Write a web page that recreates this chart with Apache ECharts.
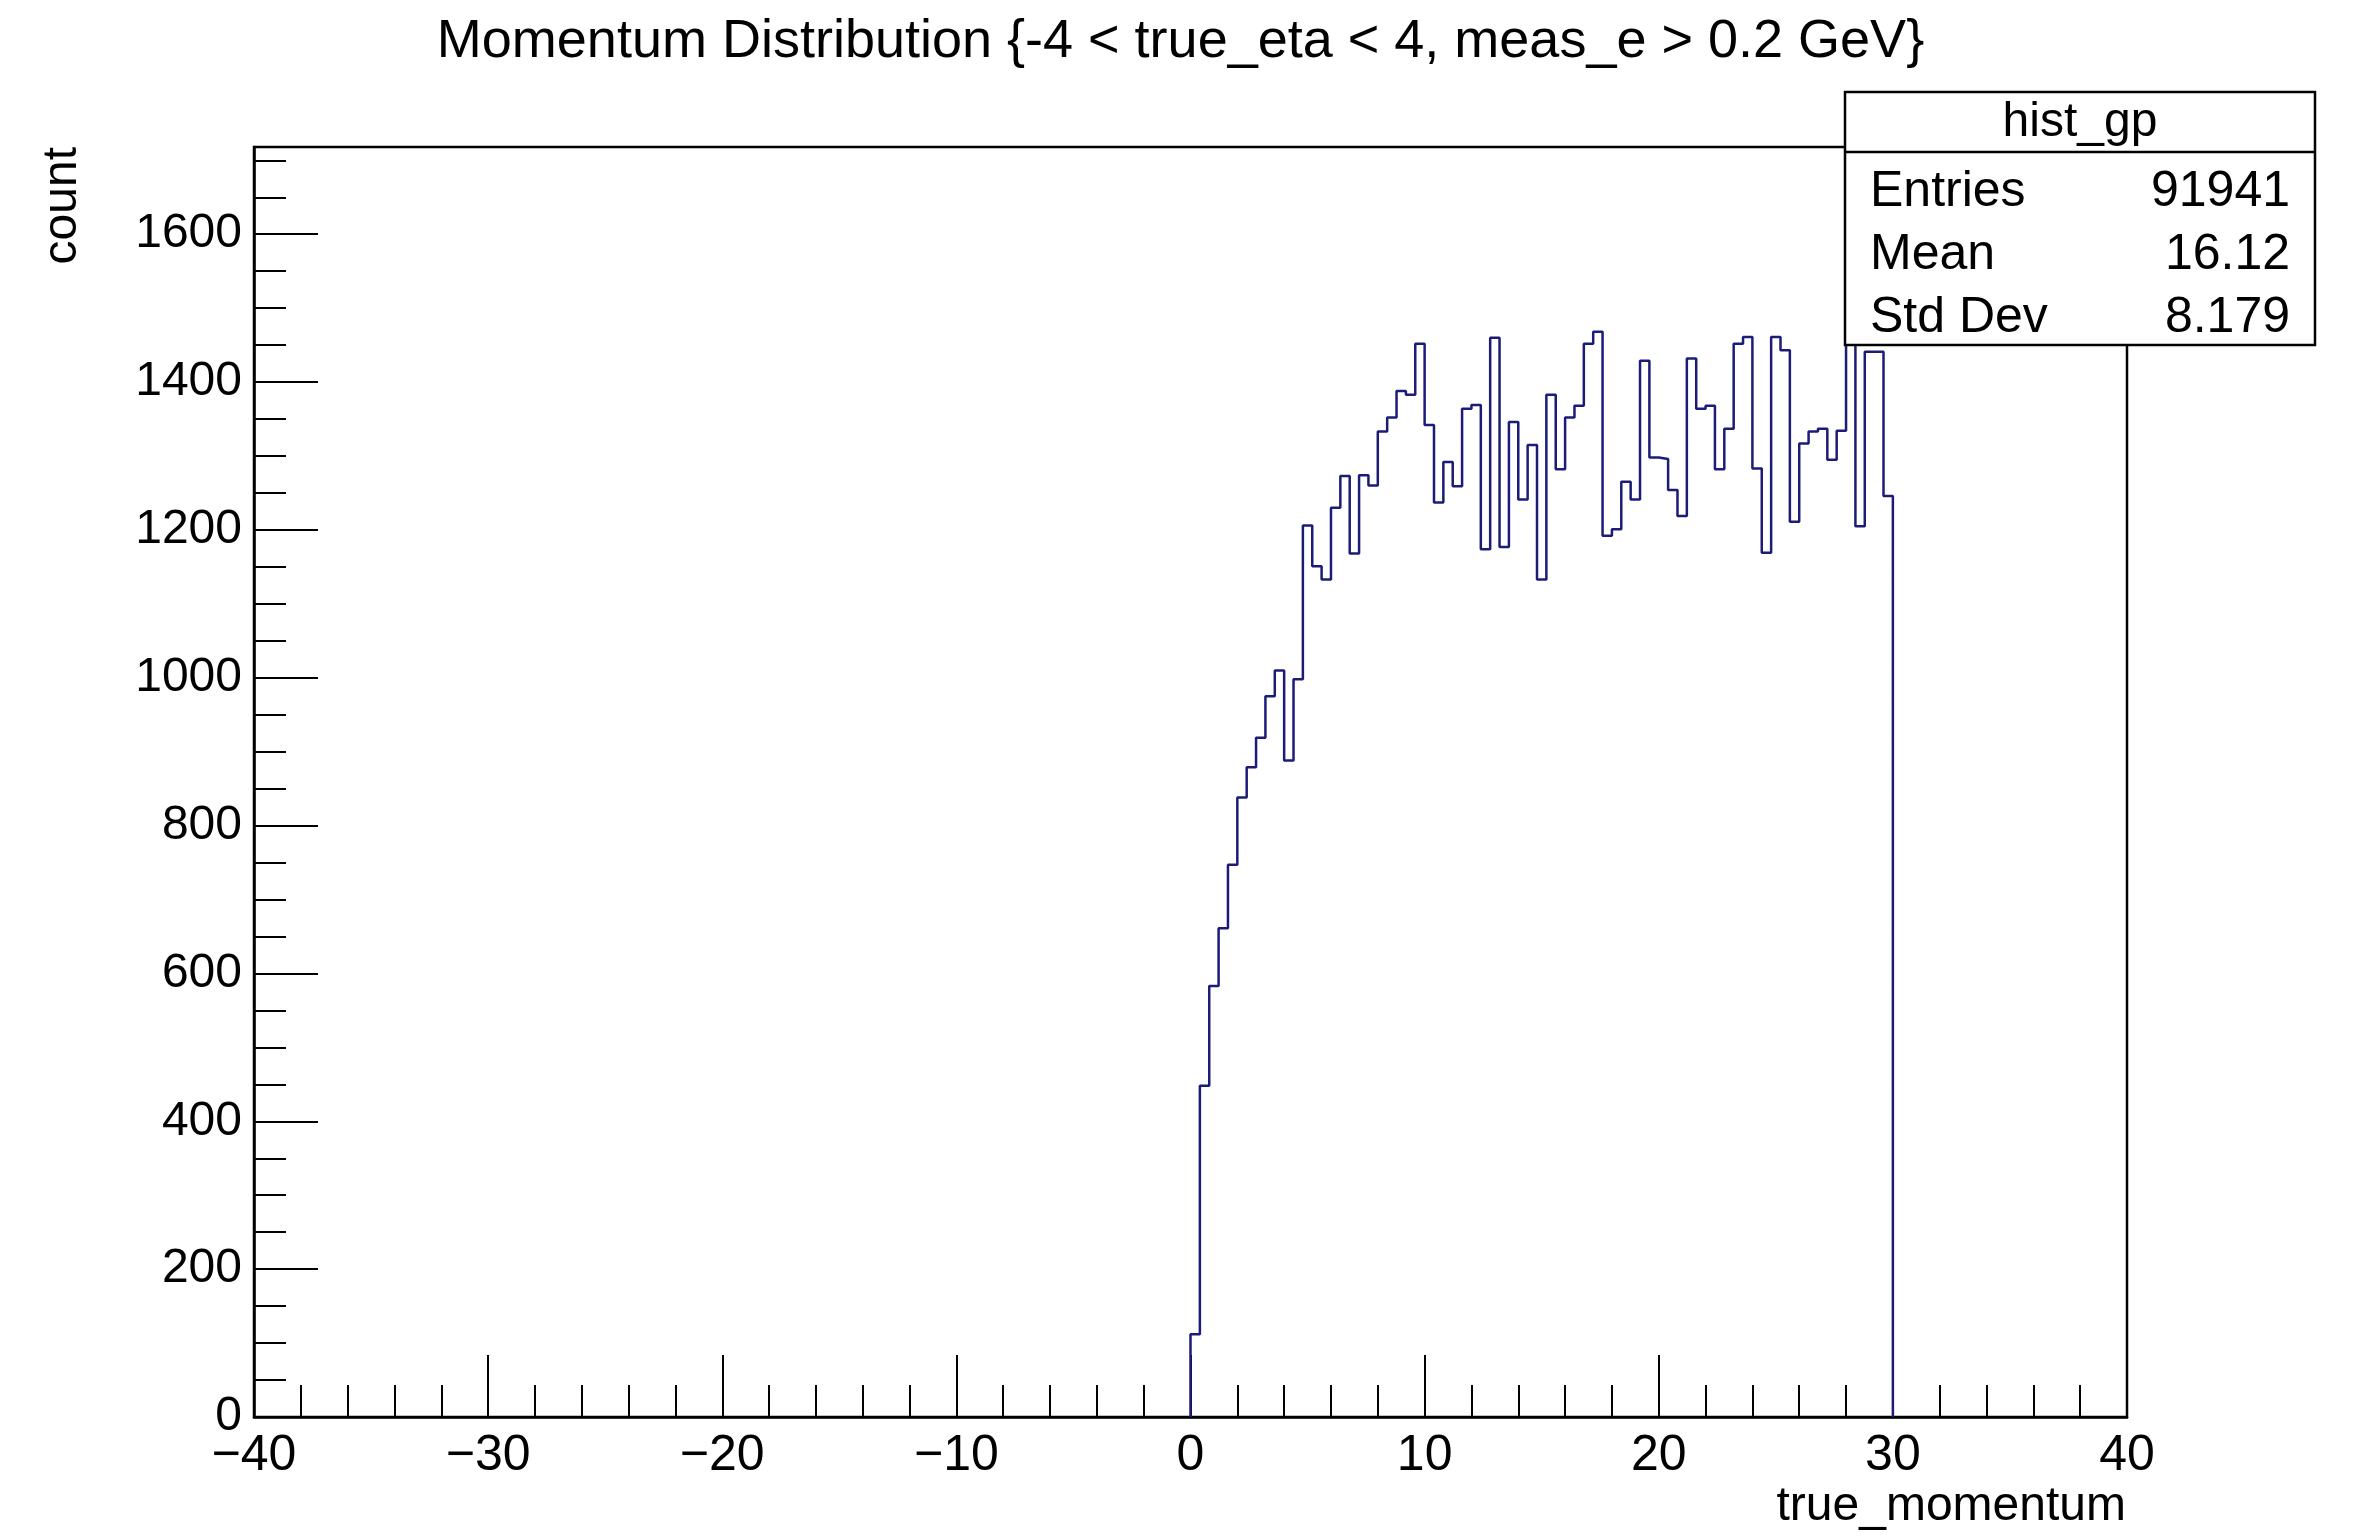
<!DOCTYPE html>
<html>
<head>
<meta charset="utf-8">
<script src="https://cdn.jsdelivr.net/npm/echarts@6/dist/echarts.min.js"></script>
<style>
  html, body { margin: 0; padding: 0; background: #ffffff; }
  #chart { width: 2361px; height: 1536px; }
</style>
</head>
<body>
<div id="chart"></div>
<script>
// ---- data (hist_gp) ----
const titleText = 'Momentum Distribution {-4 < true_eta < 4, meas_e > 0.2 GeV}';
const xTitle = 'true_momentum';
const yTitle = 'count';
const histName = 'hist_gp';
const statLabels = ['Entries', 'Mean', 'Std Dev'];
const statValues = ['91941', '16.12', '8.179'];

// bins of width 0.4 starting at 0 (all other bins from -40 to 40 are empty)
const binStart = 0;
const binWidth = 0.4;
const binCounts = [
  112, 448, 583, 661, 747, 838, 879, 919, 975, 1010,
  888, 998, 1206, 1151, 1133, 1230, 1273, 1168, 1274, 1260,
  1333, 1352, 1388, 1383, 1452, 1342, 1237, 1292, 1259, 1364,
  1369, 1174, 1460, 1177, 1346, 1241, 1315, 1133, 1383, 1282,
  1352, 1368, 1452, 1468, 1192, 1201, 1265, 1241, 1429, 1298,
  1296, 1254, 1219, 1432, 1364, 1368, 1282, 1337, 1452, 1461,
  1283, 1169, 1461, 1443, 1211, 1317, 1333, 1337, 1295, 1334,
  1490, 1205, 1441, 1441, 1246
];

const xMin = -40, xMax = 40, xStep = 10;
const yMin = 0, yMax = 1718, yStep = 200, yMinorStep = 50;

// ---- build step outline points (left edges + closing edge) ----
const stepData = [];
const lowEdge = (i) => +(binStart + i * binWidth).toFixed(4);
stepData.push([lowEdge(0), 0]);
binCounts.forEach((c, i) => stepData.push([lowEdge(i), c]));
const lastEdge = lowEdge(binCounts.length);
stepData.push([lastEdge, binCounts[binCounts.length - 1]]);
stepData.push([lastEdge, 0]);

const FONT = "'Liberation Sans', Arial, Helvetica, sans-serif";
const chart = echarts.init(document.getElementById('chart'), null, { renderer: 'canvas' });

const statGraphics = [];
const boxX = 1845, boxY = 92, boxW = 470, boxH = 253, headH = 60;
statGraphics.push({
  type: 'rect', z: 100,
  shape: { x: boxX, y: boxY, width: boxW, height: boxH },
  style: { fill: '#ffffff', stroke: '#000000', lineWidth: 2.5 }
});
statGraphics.push({
  type: 'line', z: 101,
  shape: { x1: boxX, y1: boxY + headH, x2: boxX + boxW, y2: boxY + headH },
  style: { stroke: '#000000', lineWidth: 2.5 }
});
statGraphics.push({
  type: 'text', z: 102, x: boxX + boxW / 2, y: boxY + headH / 2 + 1,
  style: { text: histName, font: '48px ' + FONT, fill: '#000', align: 'center', verticalAlign: 'middle' }
});
statLabels.forEach((lab, i) => {
  const yy = boxY + headH + 40 + i * 63;
  statGraphics.push({
    type: 'text', z: 102, x: boxX + 25, y: yy,
    style: { text: lab, font: '50px ' + FONT, fill: '#000', align: 'left', verticalAlign: 'middle' }
  });
  statGraphics.push({
    type: 'text', z: 102, x: boxX + boxW - 25, y: yy,
    style: { text: statValues[i], font: '50px ' + FONT, fill: '#000', align: 'right', verticalAlign: 'middle' }
  });
});

const option = {
  backgroundColor: '#ffffff',
  animation: false,
  title: {
    text: titleText,
    left: 'center',
    top: 10,
    textStyle: { fontFamily: FONT, fontSize: 54, fontWeight: 'normal', color: '#000' }
  },
  grid: {
    left: 254, right: 234, top: 147, bottom: 119,
    show: true, borderColor: '#000', borderWidth: 2.5, backgroundColor: 'transparent',
    containLabel: false, outerBoundsMode: 'none'
  },
  xAxis: {
    type: 'value', min: xMin, max: xMax, interval: xStep,
    axisLine: { show: true, onZero: false, lineStyle: { color: '#000', width: 2.5 } },
    axisTick: { show: true, inside: true, length: 62, lineStyle: { color: '#000', width: 2 } },
    minorTick: { show: true, splitNumber: 5, length: 32, lineStyle: { color: '#000', width: 2 } },
    splitLine: { show: false }, minorSplitLine: { show: false },
    axisLabel: {
      show: true, margin: 14, fontFamily: FONT, fontSize: 50, color: '#000',
      formatter: (v) => String(v).replace('-', '\u2212')
    }
  },
  yAxis: [
    {
      type: 'value', min: yMin, max: yMax, interval: yStep, position: 'left',
      axisLine: { show: true, onZero: false, lineStyle: { color: '#000', width: 2.5 } },
      axisTick: { show: true, inside: true, length: 64, lineStyle: { color: '#000', width: 2 } },
      splitLine: { show: false },
      axisLabel: {
        show: true, margin: 12, fontFamily: FONT, fontSize: 48, color: '#000', showMaxLabel: false,
        formatter: (v) => String(v)
      }
    },
    {
      type: 'value', min: yMin, max: yMax, interval: yMinorStep, position: 'left', offset: 0,
      axisLine: { show: false, onZero: false },
      axisTick: { show: true, inside: true, length: 32, lineStyle: { color: '#000', width: 2 } },
      splitLine: { show: false },
      axisLabel: { show: false }
    }
  ],
  graphic: [
    {
      type: 'text', x: 63, y: 147, rotation: Math.PI / 2,
      style: { text: yTitle, font: '48px ' + FONT, fill: '#000', align: 'right', verticalAlign: 'middle' }
    },
    {
      type: 'text', x: 2126, y: 1507,
      style: { text: xTitle, font: '48px ' + FONT, fill: '#000', align: 'right', verticalAlign: 'middle' }
    }
  ].concat(statGraphics),
  series: [
    {
      type: 'line',
      xAxisIndex: 0, yAxisIndex: 0,
      step: 'end',
      data: stepData,
      showSymbol: false, symbol: 'none',
      clip: true,
      lineStyle: { color: '#1c1c78', width: 2.5 },
      z: 5
    }
  ]
};
chart.setOption(option);
</script>
</body>
</html>
